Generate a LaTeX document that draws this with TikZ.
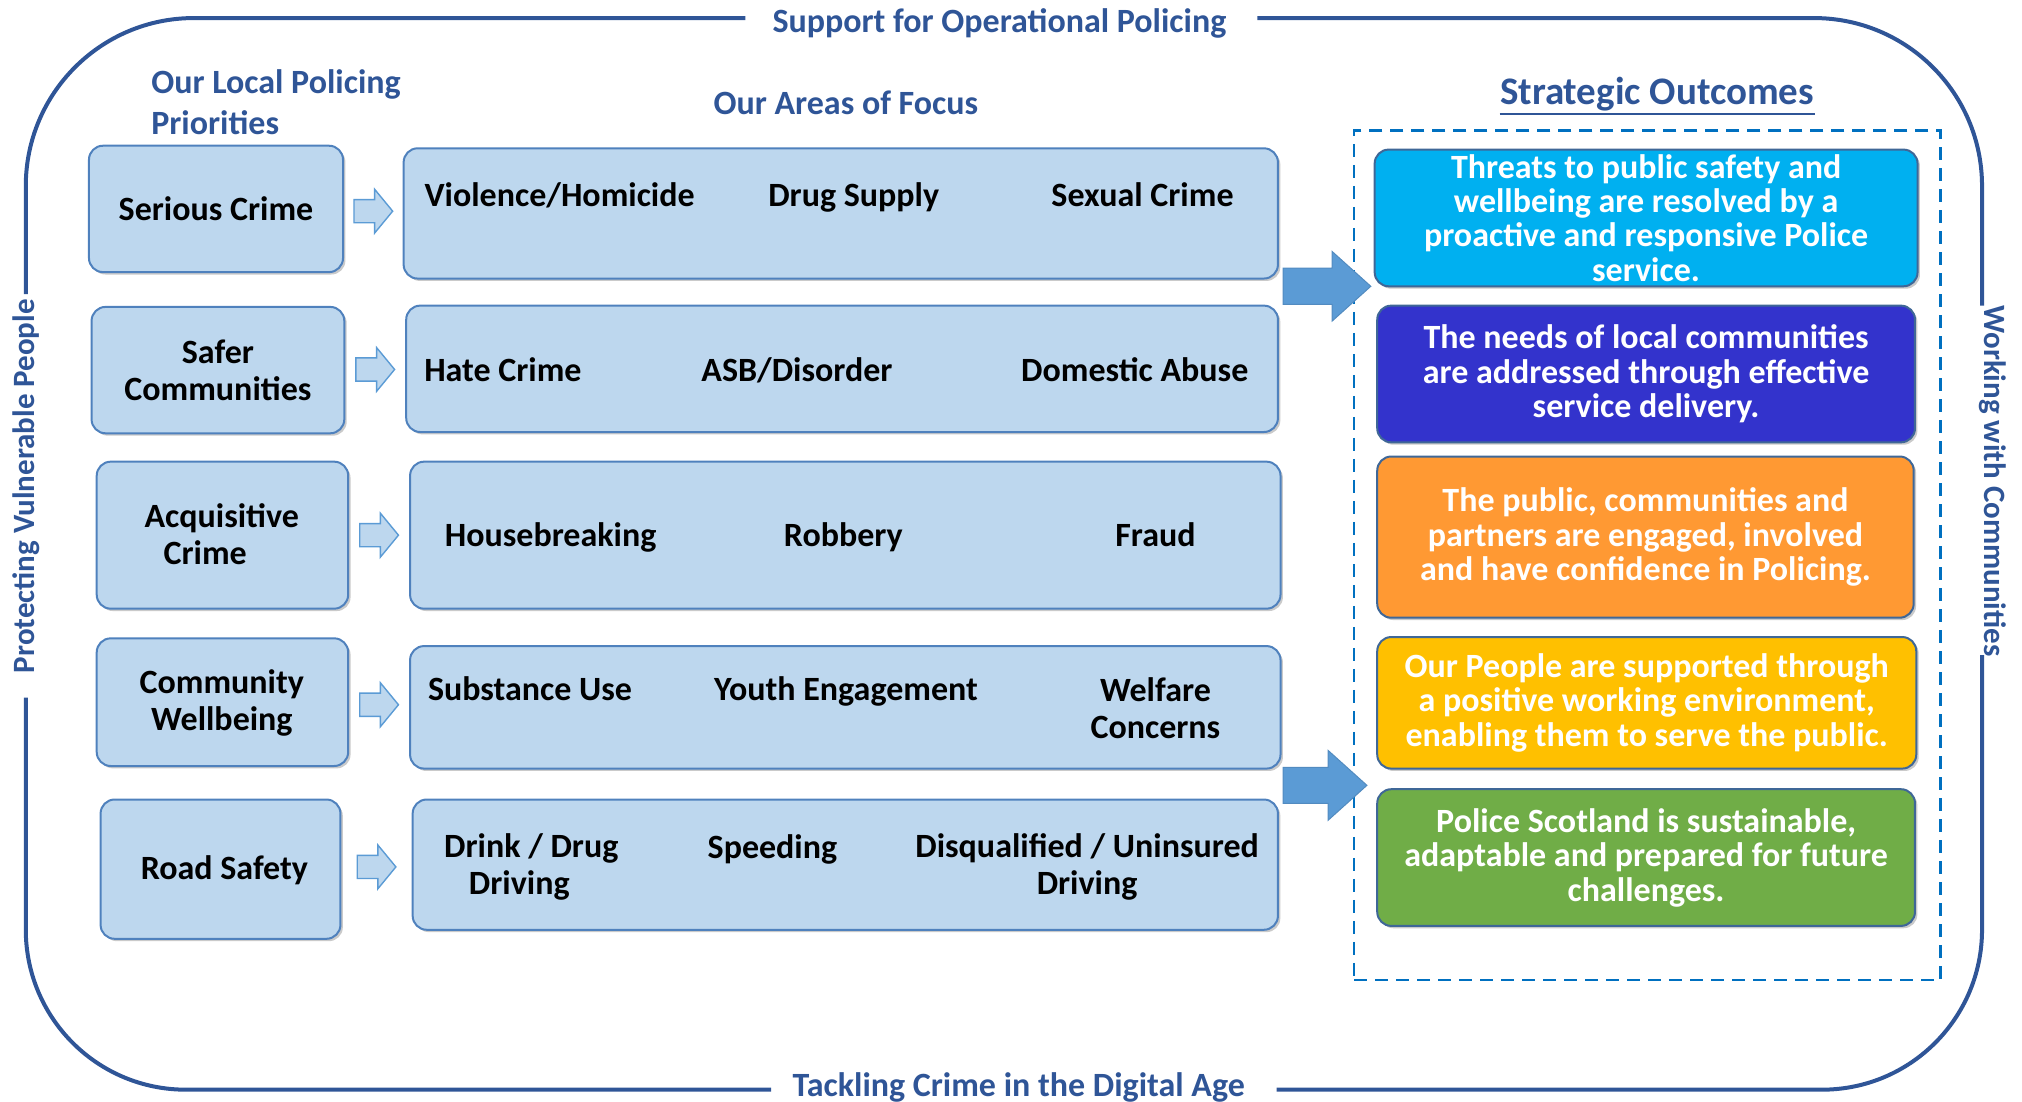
\documentclass[tikz,border=0pt]{standalone}
\usepackage{fontspec}
\setmainfont{Carlito}
\usetikzlibrary{fit,shadows,calc}
\definecolor{frameblue}{HTML}{2F5597}
\definecolor{headblue}{HTML}{2F5597}
\definecolor{boxfill}{HTML}{BDD7EE}
\definecolor{boxline}{HTML}{4F81BD}
\definecolor{arrowblue}{HTML}{5B9BD5}
\definecolor{dashblue}{HTML}{0070C0}
\definecolor{ocyan}{HTML}{00B0F0}
\definecolor{oblue}{HTML}{3333CC}
\definecolor{oorange}{HTML}{FF9933}
\definecolor{ogold}{HTML}{FFC000}
\definecolor{ogreen}{HTML}{70AD47}
\begin{document}
\begin{tikzpicture}[x=0.6448pt,y=-0.6448pt,
  font=\fontsize{17}{17}\selectfont\bfseries,
  frame/.style={draw=frameblue,line width=2pt},
  edgelabel/.style={text=headblue,font=\fontsize{17}{20}\selectfont\bfseries,inner sep=0pt},
  sidelabel/.style={text=headblue,font=\fontsize{15.5}{18}\selectfont\bfseries,inner sep=0pt},
  heading/.style={text=headblue,font=\fontsize{17}{20.6}\selectfont\bfseries,inner sep=0pt},
  pbox/.style={draw=boxline,fill=boxfill,rounded corners=7pt,line width=1pt,inner sep=0pt,align=center,
    drop shadow={shadow xshift=1.2pt,shadow yshift=-1.2pt,opacity=0.35,fill=black!60}},
  item/.style={inner sep=0pt,align=center,font=\fontsize{17}{18.4}\selectfont\bfseries},
  sitem/.style={inner sep=0pt,text height=11.9pt,text depth=5.1pt,yshift=-2.4pt},
  obox/.style={draw=boxline!80!black,rounded corners=7pt,line width=1pt,inner sep=0pt,align=center,text=white,
    drop shadow={shadow xshift=1.2pt,shadow yshift=-1.2pt,opacity=0.35,fill=black!60}},
  otext/.style={inner sep=0pt,align=center,text=white,font=\fontsize{17}{17.2}\selectfont\bfseries},
  sarrow/.style={draw=arrowblue,fill=boxfill,line width=0.7pt,line join=miter},
  barrow/.style={draw=arrowblue!90!black,fill=arrowblue,line width=0.5pt,line join=miter}
]
\useasboundingbox (0,0) rectangle (1568,854);

% outer frame with labels
\node[edgelabel] (ttop) at (775,18) {Support for Operational Policing};
\node[edgelabel] (tbot) at (790,843) {Tackling Crime in the Digital Age};
\node[sidelabel,rotate=90] (tleft) at (20,377) {Protecting Vulnerable People};
\node[sidelabel,rotate=-90] (tright) at (1545,373) {Working with Communities};
\draw[frame,rounded corners=84pt] (578,14) -- (20,14) -- (20,228);
\draw[frame,rounded corners=80pt] (20,541) -- (20,845) -- (598,845);
\draw[frame,rounded corners=80pt] (990,845) -- (1537,845) -- (1537,508);
\draw[frame,rounded corners=84pt] (1537,237) -- (1537,14) -- (975,14);

% headings
\node[heading,align=left,anchor=west] (hlocal) at (117,79) {Our Local Policing\\Priorities};
\node[heading] (hfocus) at (656,80) {Our Areas of Focus};
\node[heading,font=\fontsize{19.5}{20}\selectfont\bfseries] (hout) at (1285,73) {Strategic Outcomes};
\draw[headblue,line width=1.3pt] ($(hout.south west)+(0,2)$) -- ($(hout.south east)+(0,2)$);

% priority boxes
\node[pbox,fit={(69,113)(266,211)}] (p1) {};
\node[sitem] (p1t) at (p1.center) {Serious Crime};
\node[pbox,fit={(71,238)(267,336)}] (p2) {};
\node[item] (p2t) at (p2.center) {Safer\\Communities};
\node[pbox,fit={(75,358)(270,472)}] (p3) {};
\node[item,align=left] (p3t) at (172,414) {Acquisitive\\\hspace*{9.5pt}Crime};
\node[pbox,fit={(75,495)(270,594)}] (p4) {};
\node[item] (p4t) at (172,545) {Community\\Wellbeing};
\node[pbox,fit={(78,620)(264,728)}] (p5) {};
\node[sitem] (p5t) at (174,673) {Road Safety};

% focus boxes
\node[pbox,fit={(313,115)(991,216)}] (f1) {};
\node[pbox,fit={(315,237)(991,335)}] (f2) {};
\node[pbox,fit={(318,358)(993,472)}] (f3) {};
\node[pbox,fit={(318,501)(993,596)}] (f4) {};
\node[pbox,fit={(320,620)(991,721)}] (f5) {};

\node[sitem] (f1a) at (434,151) {Violence/Homicide};
\node[sitem] (f1b) at (662,151) {Drug Supply};
\node[sitem] (f1c) at (886,151) {Sexual Crime};
\node[sitem] (f2a) at (390,287) {Hate Crime};
\node[sitem] (f2b) at (618,287) {ASB/Disorder};
\node[sitem] (f2c) at (880,287) {Domestic Abuse};
\node[sitem] (f3a) at (427,415) {Housebreaking};
\node[sitem] (f3b) at (654,415) {Robbery};
\node[sitem] (f3c) at (896,415) {Fraud};
\node[sitem] (f4a) at (411,534) {Substance Use};
\node[sitem] (f4b) at (656,534) {Youth Engagement};
\node[item] (f4c) at (896,549) {Welfare\\Concerns};
\node[item] (f5a) at (412,672) {Drink / Drug\\\hspace*{-12pt}Driving};
\node[sitem] (f5b) at (599,657) {Speeding};
\node[item] (f5c) at (843,672) {Disqualified / Uninsured\\Driving};

% small block arrows between priorities and focus areas
\foreach \i in {1,...,5}{
  \coordinate (sa\i) at ($(p\i.east)!0.5!(f\i.west)$);
  \draw[sarrow] ($(sa\i)+(-15,-9)$) -- ($(sa\i)+(1,-9)$) -- ($(sa\i)+(1,-17)$) -- ($(sa\i)+(15,0)$)
     -- ($(sa\i)+(1,17)$) -- ($(sa\i)+(1,9)$) -- ($(sa\i)+(-15,9)$) -- cycle;
}

% strategic outcomes
\node[draw=dashblue,line width=1.3pt,dash pattern=on 6.5pt off 4pt,inner sep=0pt,fit={(1050,101)(1505,760)}] (dbox) {};
\node[obox,fill=ocyan,fit={(1066,116)(1487,222)}] (o1) {};
\node[otext] (o1t) at (o1.center) {Threats to public safety and\\wellbeing are resolved by a\\proactive and responsive Police\\service.};
\node[obox,fill=oblue,fit={(1068,237)(1485,343)}] (o2) {};
\node[otext] (o2t) at (o2.center) {The needs of local communities\\are addressed through effective\\service delivery.};
\node[obox,fill=oorange,fit={(1068,354)(1484,479)}] (o3) {};
\node[otext] (o3t) at (o3.center) {The public, communities and\\partners are engaged, involved\\and have confidence in Policing.};
\node[obox,fill=ogold,fit={(1068,494)(1486,596)}] (o4) {};
\node[otext] (o4t) at (o4.center) {Our People are supported through\\a positive working environment,\\enabling them to serve the public.};
\node[obox,fill=ogreen,fit={(1068,612)(1485,718)}] (o5) {};
\node[otext] (o5t) at (o5.center) {Police Scotland is sustainable,\\adaptable and prepared for future\\challenges.};

% big block arrows into outcomes
\coordinate (ba1) at (995,222);
\coordinate (ba2) at (995,609);
\foreach \c/\L in {ba1/68,ba2/65}{
  \draw[barrow] ($(\c)+(0,-14)$) -- ($(\c)+(\L-30,-14)$) -- ($(\c)+(\L-30,-27)$) -- ($(\c)+(\L,0)$)
     -- ($(\c)+(\L-30,27)$) -- ($(\c)+(\L-30,14)$) -- ($(\c)+(0,14)$) -- cycle;
}
\end{tikzpicture}
\end{document}
